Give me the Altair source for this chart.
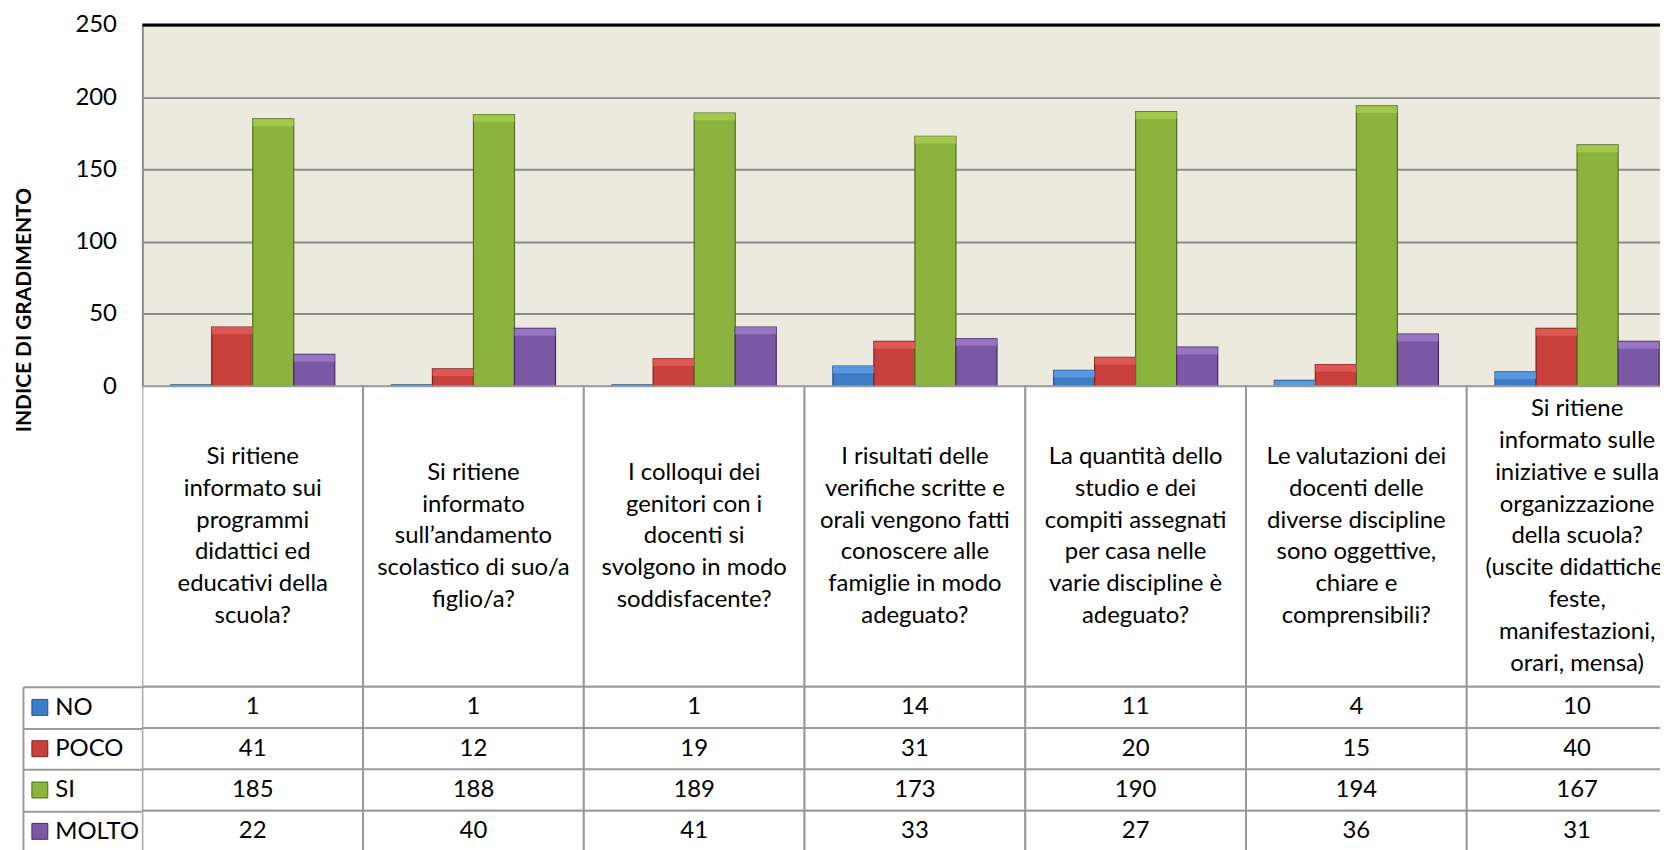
import altair as alt
import pandas as pd

# ---------------- data ----------------
categories = [
    "Si ritiene\ninformato sui\nprogrammi\ndidattici ed\neducativi della\nscuola?",
    "Si ritiene\ninformato\nsull’andamento\nscolastico di suo/a\nfiglio/a?",
    "I colloqui dei\ngenitori con i\ndocenti si\nsvolgono in modo\nsoddisfacente?",
    "I risultati delle\nverifiche scritte e\norali vengono fatti\nconoscere alle\nfamiglie in modo\nadeguato?",
    "La quantità dello\nstudio e dei\ncompiti assegnati\nper casa nelle\nvarie discipline è\nadeguato?",
    "Le valutazioni dei\ndocenti delle\ndiverse discipline\nsono oggettive,\nchiare e\ncomprensibili?",
    "Si ritiene\ninformato sulle\niniziative e sulla\norganizzazione\ndella scuola?\n(uscite didattiche,\nfeste,\nmanifestazioni,\norari, mensa)",
]
series = ["NO", "POCO", "SI", "MOLTO"]
no_values = [1, 1, 1, 14, 11, 4, 10]
poco_values = [41, 12, 19, 31, 20, 15, 40]
si_values = [185, 188, 189, 173, 190, 194, 167]
molto_values = [22, 40, 41, 33, 27, 36, 31]
y_ticks = [0, 50, 100, 150, 200, 250]
y_title = "INDICE DI GRADIMENTO"

fill_colors = ["#3D7DC8", "#C83F3C", "#8DB33F", "#7B57A6"]
cap_colors = ["#62A2E6", "#E5625E", "#AAD052", "#A07FCC"]
edge_colors = ["#22508A", "#7E201E", "#4F6C1E", "#41295F"]

# ---------------- layout / style ----------------
FONT = "Lato"
FS = 24
BG = "#ECE9DF"
GRID = "#8A8A8A"
LINE = "#9A9A9A"
PAD_L, PAD_T = 135, 15
W, H = 1525, 835
CAT_W = 221.8
BAR_H = 363
HEAD_BOTTOM = 665
ROW_H = 41.5
LINE_H = 32
CAP = 5  # bevel cap height, in value units

rows = []
for cat, n, p, s, m in zip(categories, no_values, poco_values, si_values, molto_values):
    for name, v in zip(series, [n, p, s, m]):
        rows.append({"categoria": cat, "serie": name, "valore": v})
df = pd.DataFrame(rows)
head_df = pd.DataFrame({"categoria": categories, "riga": ["tabella"] * len(categories)})
keys_df = pd.DataFrame({"serie": series})
top_df = pd.DataFrame({"v": [y_ticks[-1]]})

x_scale = alt.Scale(domain=categories, range=[0, CAT_W * len(categories)],
                    paddingInner=0, paddingOuter=0, round=False)
x_enc = alt.X("categoria:N", scale=x_scale, axis=None)
xoff_enc = alt.XOffset("serie:N", scale=alt.Scale(domain=series, paddingInner=0,
                                                  paddingOuter=0.69, round=False))
bar_y = alt.Scale(domain=[0, 250], range=[BAR_H, 0], nice=False)
head_y = alt.Scale(domain=["tabella"], range=[BAR_H, HEAD_BOTTOM], paddingInner=0,
                   paddingOuter=0, round=False)
row_y = alt.Scale(domain=series, range=[HEAD_BOTTOM, HEAD_BOTTOM + ROW_H * len(series)],
                  paddingInner=0, paddingOuter=0, round=False)
color_enc = alt.Color("serie:N", scale=alt.Scale(domain=series, range=fill_colors), legend=None)
stroke_enc = alt.Stroke("serie:N", scale=alt.Scale(domain=series, range=edge_colors), legend=None)

bars = alt.Chart(df).mark_bar(clip=True, strokeWidth=1.2).encode(
    x=x_enc,
    xOffset=xoff_enc,
    y=alt.Y("valore:Q", scale=bar_y,
            axis=alt.Axis(values=y_ticks, orient="left", grid=True, gridColor=GRID, gridWidth=2,
                          ticks=False, domain=True, domainColor=GRID, domainWidth=2,
                          labelFont=FONT, labelFontSize=FS, labelColor="black", labelPadding=26,
                          title=y_title, titleFont=FONT, titleFontSize=21, titleFontWeight="bold",
                          titleColor="black", titleAngle=270, titleX=-118, titleY=286,
                          titleAlign="center", titleBaseline="middle")),
    color=color_enc,
    stroke=stroke_enc,
)

caps = alt.Chart(df).transform_calculate(
    base=f"max(0, datum.valore - {CAP})"
).mark_bar(clip=True, strokeWidth=0, opacity=0.75).encode(
    x=x_enc,
    xOffset=xoff_enc,
    y=alt.Y("valore:Q", scale=bar_y, axis=None),
    y2="base:Q",
    fill=alt.Fill("serie:N", scale=alt.Scale(domain=series, range=cap_colors), legend=None),
)

top_rule = alt.Chart(top_df).mark_rule(color="black", strokeWidth=3).encode(
    y=alt.Y("v:Q", scale=bar_y, axis=None)
)

head_cells = alt.Chart(head_df).mark_rect(fill="white", stroke=LINE, strokeWidth=2, clip=True).encode(
    x=x_enc, y=alt.Y("riga:N", scale=head_y, axis=None)
)
head_text = alt.Chart(head_df).transform_calculate(
    spost=f"{(HEAD_BOTTOM - BAR_H) / 2} - (length(split(datum.categoria, '\\n')) - 1) * {LINE_H / 2}"
).mark_text(
    font=FONT, fontSize=FS, lineHeight=LINE_H, lineBreak="\n", align="center",
    baseline="middle", color="black", clip=True
).encode(
    x=x_enc,
    y=alt.Y("riga:N", scale=head_y, axis=None),
    yOffset=alt.YOffset("spost:Q", scale=None),
    text="categoria:N",
)

row_cells = alt.Chart(df).mark_rect(fill="white", stroke=LINE, strokeWidth=2, clip=True).encode(
    x=x_enc, y=alt.Y("serie:N", scale=row_y, axis=None)
)
row_text = alt.Chart(df).mark_text(
    font=FONT, fontSize=FS, align="center", baseline="middle", color="black", clip=True
).encode(
    x=x_enc,
    y=alt.Y("serie:N", scale=row_y,
            axis=alt.Axis(orient="left", tickBand="extent", ticks=True, tickSize=120,
                          tickColor=LINE, tickWidth=2, domain=True, domainColor=LINE,
                          domainWidth=2, grid=False, labels=True, labelAlign="left",
                          labelPadding=-32, labelFont=FONT, labelFontSize=FS,
                          labelColor="black", title=None)),
    text="valore:Q",
)

keys = alt.Chart(keys_df).mark_square(size=256, opacity=1, filled=True, strokeWidth=1).encode(
    x=alt.value(-103),
    y=alt.Y("serie:N", scale=row_y,
            axis=alt.Axis(orient="left", offset=120, domain=True, domainColor=LINE,
                          domainWidth=2, ticks=False, labels=False, grid=False, title=None)),
    color=color_enc,
    stroke=stroke_enc,
)

chart = alt.layer(
    bars, caps, top_rule, head_cells, head_text, row_cells, row_text, keys
).resolve_scale(
    y="independent"
).properties(
    width=W, height=H,
    padding={"left": PAD_L, "top": PAD_T, "right": 0, "bottom": 0},
    autosize=alt.AutoSizeParams(type="none"),
).configure_view(fill=BG, stroke=None)

chart.save("out.html", embed_options={"renderer": "svg", "actions": False})
